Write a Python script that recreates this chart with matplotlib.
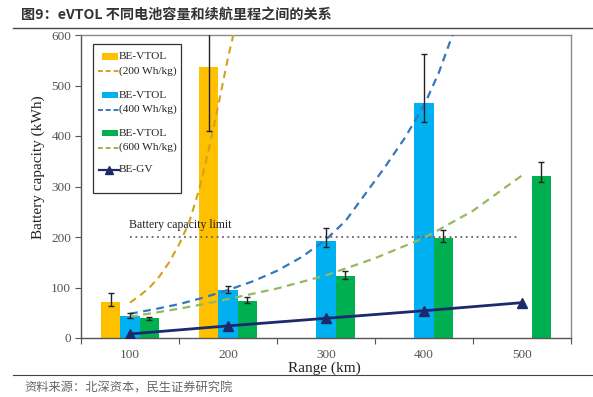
import matplotlib
matplotlib.use("Agg")
import matplotlib.pyplot as plt
from matplotlib.patches import Rectangle
from matplotlib.lines import Line2D
import numpy as np

# ---------------- data ----------------
ranges = [100, 200, 300, 400, 500]
range_labels = ["100", "200", "300", "400", "500"]

# bars (kWh); None = no bar
bar_200 = [71, 537, None, None, None]
bar_200_err_lo = [7, 128, 0, 0, 0]
bar_200_err_hi = [19, 128, 0, 0, 0]

bar_400 = [44, 95, 193, 466, None]
bar_400_err_lo = [5, 5, 12, 38, 0]
bar_400_err_hi = [5, 8, 24, 96, 0]

bar_600 = [39, 74, 123, 199, 321]
bar_600_err_lo = [3, 5, 6, 9, 13]
bar_600_err_hi = [3, 7, 10, 15, 28]

gv_values = [8, 24, 39, 54, 70]

# dashed trend curves (range km, kWh)
curve_200_x = [100, 110, 120, 130, 140, 150, 160, 170, 180, 190, 200, 206]
curve_200_y = [70, 84, 100, 122, 150, 185, 227, 290, 370, 460, 555, 605]
curve_400_x = [100, 125, 150, 175, 200, 225, 250, 275, 300, 320, 340, 360, 380, 400, 415, 430]
curve_400_y = [48, 57, 67, 80, 95, 112, 133, 160, 195, 232, 285, 338, 395, 460, 525, 605]
curve_600_x = [100, 125, 150, 175, 200, 250, 300, 350, 400, 450, 500]
curve_600_y = [42, 50, 58, 67, 77, 98, 124, 158, 198, 252, 322]

limit_value = 200
limit_range = [100, 498]

legend_labels = ["BE-VTOL", "(200 Wh/kg)", "BE-VTOL", "(400 Wh/kg)",
                 "BE-VTOL", "(600 Wh/kg)", "BE-GV"]

# ---------------- style ----------------
c_yel, c_blu, c_grn = "#FFC000", "#00B0F0", "#00B050"
d_yel, d_blu, d_grn = "#D2A21E", "#3577BD", "#97B862"
c_gv = "#1C2A6C"
serif = "Liberation Serif"

W, H = 593, 397
fig = plt.figure(figsize=(W / 100, H / 100), dpi=100)
L, R, T, B = 81, 571, 35, 338
ax = fig.add_axes([L / W, 1 - B / H, (R - L) / W, (B - T) / H])

def r2x(r):
    return (np.asarray(r, dtype=float) - 100) / 100.0

idx = np.arange(len(ranges))
bw = 0.195
off = 0.197

def draw_bars(vals, lo, hi, xoff, color):
    xs = [i + xoff for i, v in enumerate(vals) if v is not None]
    vs = [v for v in vals if v is not None]
    los = [lo[i] for i, v in enumerate(vals) if v is not None]
    his = [hi[i] for i, v in enumerate(vals) if v is not None]
    ax.bar(xs, vs, width=bw, color=color, zorder=2)
    ax.errorbar(xs, vs, yerr=[los, his], fmt="none", ecolor="#222222",
                elinewidth=1.0, capsize=2, capthick=1.0, zorder=5)

draw_bars(bar_200, bar_200_err_lo, bar_200_err_hi, -off, c_yel)
draw_bars(bar_400, bar_400_err_lo, bar_400_err_hi, 0, c_blu)
draw_bars(bar_600, bar_600_err_lo, bar_600_err_hi, off, c_grn)

dash = (0, (3.5, 2.5))
ax.plot(r2x(curve_200_x), curve_200_y, color=d_yel, lw=1.5, linestyle=dash, zorder=4)
ax.plot(r2x(curve_400_x), curve_400_y, color=d_blu, lw=1.6, linestyle=dash, zorder=4)
ax.plot(r2x(curve_600_x), curve_600_y, color=d_grn, lw=1.6, linestyle=dash, zorder=4)

ax.plot(r2x(limit_range), [limit_value, limit_value], color="#6E5E62",
        lw=1.3, linestyle=(0, (1, 2)), zorder=3)
ax.text(r2x(100)[()] - 0.01, limit_value + 24, "Battery capacity limit",
        fontfamily=serif, fontsize=8.5, color="#222222", va="center", ha="left")

ax.plot(r2x(ranges), gv_values, color=c_gv, lw=2, marker="^", markersize=7.5,
        zorder=6)

ax.set_xlim(-0.5, 4.5)
ax.set_ylim(0, 600)
ax.set_xticks(np.arange(-0.5, 4.6, 1.0))
ax.set_xticklabels([])
ax.set_xticks(idx, minor=True)
ax.set_xticklabels(range_labels, minor=True)
ax.tick_params(axis="x", which="minor", length=0, pad=8)
ax.tick_params(axis="x", which="major", length=4, color="#555555", direction="out")
ax.set_yticks(np.arange(0, 601, 100))
ax.tick_params(axis="y", length=4, color="#555555", direction="out", pad=3)
for lab in ax.get_xticklabels(minor=True) + ax.get_yticklabels():
    lab.set_fontfamily(serif)
    lab.set_fontsize(9.5)
    lab.set_color("#555555")
for s in ax.spines.values():
    s.set_color("#8A8A8A")
    s.set_linewidth(1.0)
ax.spines["left"].set_color("#555555")
ax.spines["bottom"].set_color("#555555")

fig.text(38 / W, 1 - 167 / H, "Battery capacity (kWh)", rotation=90,
         fontfamily=serif, fontsize=11, color="#222222", ha="center", va="center")
fig.text(324 / W, 1 - 368 / H, "Range (km)", fontfamily=serif, fontsize=11,
         color="#222222", ha="center", va="center")

# ---------------- legend (drawn manually) ----------------
def fx(x):
    return x / W

def fy(y):
    return 1 - y / H

fig.patches.append(Rectangle((fx(93), fy(193)), fx(181) - fx(93), fy(44) - fy(193),
                             transform=fig.transFigure, fill=True, facecolor="white",
                             edgecolor="#333333", lw=0.9, zorder=10))
rows = [56.5, 71, 95, 109.5, 133, 147.5, 170]
kinds = [("patch", c_yel), ("dash", d_yel), ("patch", c_blu), ("dash", d_blu),
         ("patch", c_grn), ("dash", d_grn), ("gv", c_gv)]
for y, (kind, col), lab in zip(rows, kinds, legend_labels):
    if kind == "patch":
        fig.patches.append(Rectangle((fx(102), fy(y + 3)), fx(118) - fx(102),
                                     fy(y - 3) - fy(y + 3), transform=fig.transFigure,
                                     facecolor=col, edgecolor="none", zorder=11))
    elif kind == "dash":
        fig.lines.append(Line2D([fx(98), fx(119)], [fy(y), fy(y)], transform=fig.transFigure,
                                color=col, lw=1.4, linestyle=(0, (2.5, 1.5)), zorder=11))
    else:
        fig.lines.append(Line2D([fx(99), fx(119)], [fy(y), fy(y)], transform=fig.transFigure,
                                color=col, lw=1.6, zorder=11))
        fig.lines.append(Line2D([fx(109)], [fy(y)], transform=fig.transFigure,
                                color=col, marker="^", markersize=5.5, zorder=12))
    fig.text(fx(119), fy(y), lab, fontfamily=serif, fontsize=8.2, color="#222222",
             ha="left", va="center", zorder=12)

# ---------------- title & source ----------------
cjk = ["Noto Sans CJK SC", "DejaVu Sans"]
fig.text(fx(21), fy(15), "图9：eVTOL 不同电池容量和续航里程之间的关系", fontfamily=cjk,
         fontsize=10.2, fontweight="bold", color="#333333", ha="left", va="center")
fig.lines.append(Line2D([fx(13), fx(593)], [fy(27.5), fy(27.5)], transform=fig.transFigure,
                        color="#444444", lw=1.0))
fig.lines.append(Line2D([fx(13), fx(593)], [fy(374.5), fy(374.5)], transform=fig.transFigure,
                        color="#444444", lw=0.8))
fig.text(fx(24), fy(388), "资料来源：北深资本，民生证券研究院", fontfamily=cjk,
         fontsize=8.8, color="#666666", ha="left", va="center")

fig.savefig("out.png", dpi=100)
